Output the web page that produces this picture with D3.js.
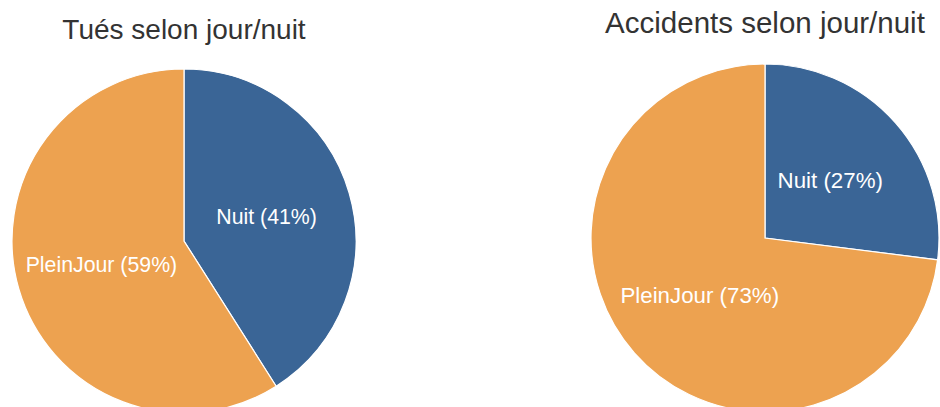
<!DOCTYPE html>
<html>
<head>
<meta charset="utf-8">
<script src="https://cdn.jsdelivr.net/npm/d3@7"></script>
<style>
  body { margin: 0; background: #fff; }
  svg { display: block; }
</style>
</head>
<body>
<script>
// Data
const categories = ["Nuit", "PleinJour"];
const tuesValues = [41, 59];
const accidentsValues = [27, 73];
const titles = ["Tués selon jour/nuit", "Accidents selon jour/nuit"];

const width = 940, height = 407;

const svg = d3.select("body").append("svg")
  .attr("width", width)
  .attr("height", height);

const color = d3.scaleOrdinal()
  .domain(categories)
  .range(["#3a6596", "#eda250"]);

// one pie per chart: centre, radius, title baseline and font sizes
const charts = [
  { title: titles[0], values: tuesValues, cx: 184, cy: 241, r: 172, ty: 39, tfs: 28, lfs: 21.3 },
  { title: titles[1], values: accidentsValues, cx: 765, cy: 238, r: 174, ty: 33, tfs: 29.5, lfs: 22.3 }
];

const pie = d3.pie().sort(null).value(d => d.value);

charts.forEach(c => {
  const data = categories.map((k, i) => ({ key: k, value: c.values[i] }));
  const arcs = pie(data);
  const arc = d3.arc().innerRadius(0).outerRadius(c.r);

  const g = svg.append("g")
    .attr("transform", `translate(${c.cx},${c.cy})`);

  g.selectAll("path")
    .data(arcs)
    .join("path")
    .attr("d", arc)
    .attr("fill", d => color(d.data.key))
    .attr("stroke", "#fff")
    .attr("stroke-width", 1.2);

  g.selectAll("text")
    .data(arcs)
    .join("text")
    .attr("transform", d => `translate(${arc.centroid(d)})`)
    .attr("dy", "0.35em")
    .attr("text-anchor", "middle")
    .attr("fill", "#fff")
    .style("font-family", "'Liberation Sans', Arial, sans-serif")
    .style("font-size", c.lfs + "px")
    .text(d => `${d.data.key} (${d.data.value}%)`);

  svg.append("text")
    .attr("x", c.cx)
    .attr("y", c.ty)
    .attr("text-anchor", "middle")
    .attr("fill", "#333")
    .style("font-family", "'Liberation Sans', Arial, sans-serif")
    .style("font-size", c.tfs + "px")
    .text(c.title);
});
</script>
</body>
</html>
